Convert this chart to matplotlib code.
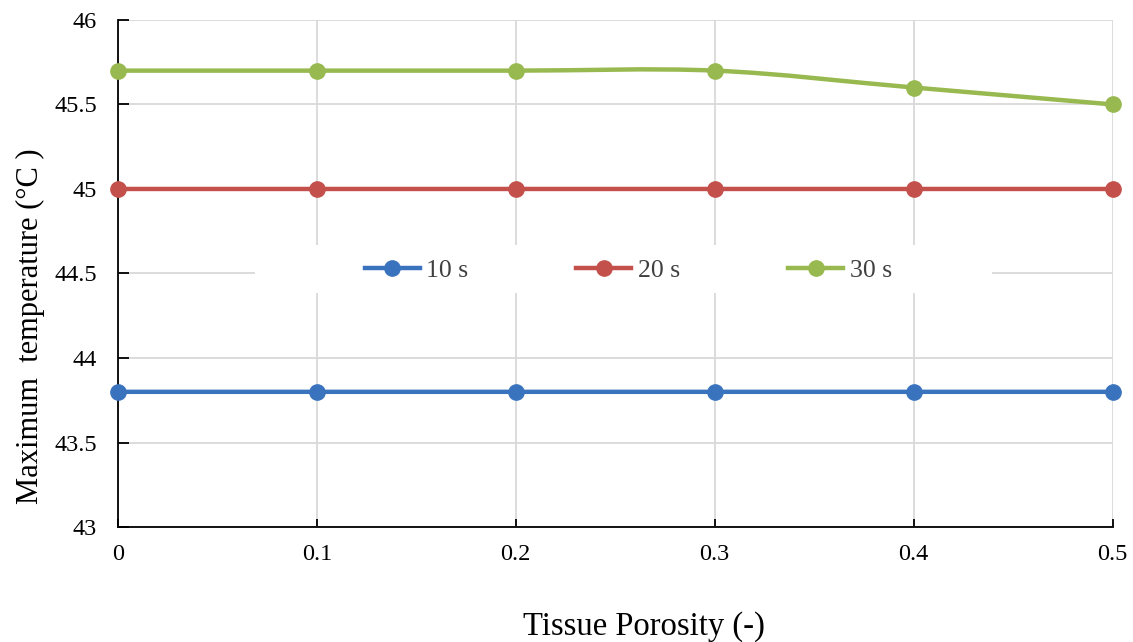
import numpy as np
import matplotlib.pyplot as plt
from matplotlib.path import Path
from matplotlib.patches import PathPatch, Rectangle
from matplotlib.lines import Line2D

plt.rcParams['font.family'] = ['Liberation Serif', 'DejaVu Serif']

# data
porosity = [0, 0.1, 0.2, 0.3, 0.4, 0.5]
t10 = [43.8, 43.8, 43.8, 43.8, 43.8, 43.8]
t20 = [45.0, 45.0, 45.0, 45.0, 45.0, 45.0]
t30 = [45.7, 45.7, 45.7, 45.7, 45.6, 45.5]
labels = ['10 s', '20 s', '30 s']
colors = ['#3a73bd', '#c4504b', '#97b94f']
yticks = [43, 43.5, 44, 44.5, 45, 45.5, 46]
ytick_labels = ['43', '43.5', '44', '44.5', '45', '45.5', '46']
xticks = [0, 0.1, 0.2, 0.3, 0.4, 0.5]
xtick_labels = ['0', '0.1', '0.2', '0.3', '0.4', '0.5']


# smoothed line like Excel (cubic bezier through the points)
def smooth_path(x, y):
    p = np.column_stack([x, y]).astype(float)
    n = len(p)
    verts = [p[0]]
    codes = [Path.MOVETO]
    for i in range(n - 1):
        p0 = p[i - 1] if i > 0 else p[i]
        p3 = p[i + 2] if i + 2 < n else p[i + 1]
        c1 = p[i] + (p[i + 1] - p0) / 6
        c2 = p[i + 1] - (p3 - p[i]) / 6
        verts += [c1, c2, p[i + 1]]
        codes += [Path.CURVE4] * 3
    return Path(verts, codes)


fig = plt.figure(figsize=(11.33, 6.42), dpi=100)
ax = fig.add_axes([0.104, 0.179, 0.878, 0.790])

handles = []
for ys, c, lab in zip([t10, t20, t30], colors, labels):
    patch = PathPatch(smooth_path(porosity, ys), facecolor='none', edgecolor=c,
                      lw=3.2, zorder=3, capstyle='round')
    ax.add_patch(patch)
    ax.plot(porosity, ys, 'o', color=c, markersize=11, zorder=4, clip_on=False)
    handles.append(Line2D([], [], color=c, lw=3.2, marker='o', markersize=11))

ax.set_xlim(0, 0.5)
ax.set_ylim(43, 46)
ax.set_xticks(xticks)
ax.set_xticklabels(xtick_labels)
ax.set_yticks(yticks)
ax.set_yticklabels(ytick_labels)
ax.grid(True, color='#d9d9d9', lw=1.3, zorder=0)
ax.set_axisbelow(True)

for s in ['top', 'right']:
    ax.spines[s].set_visible(False)
for s in ['left', 'bottom']:
    ax.spines[s].set_color('black')
    ax.spines[s].set_linewidth(1.3)
ax.tick_params(axis='y', direction='in', length=8, width=1.3, labelsize=17.5, pad=15)
ax.tick_params(axis='x', direction='in', length=6, width=1.3, labelsize=17.5, pad=12)

# white box behind the legend, cutting the gridlines
ax.add_patch(Rectangle((0.138, 0.462), 0.741, 0.094, transform=ax.transAxes,
                       facecolor='white', edgecolor='none', zorder=1.5))
leg = ax.legend(handles, labels, loc='center', bbox_to_anchor=(0.513, 0.505),
                ncol=3, frameon=False, fontsize=18.5, handlelength=2.15,
                handletextpad=0.25, columnspacing=4.2)
for t in leg.get_texts():
    t.set_color('#404040')

ax.set_xlabel('Tissue Porosity (-)', fontsize=23.5)
ax.set_ylabel('Maximum  temperature (\u00b0C )', fontsize=22)
ax.xaxis.set_label_coords(0.529, -0.166)
ax.yaxis.set_label_coords(-0.073, 0.396)

fig.savefig('out.png', dpi=100)
